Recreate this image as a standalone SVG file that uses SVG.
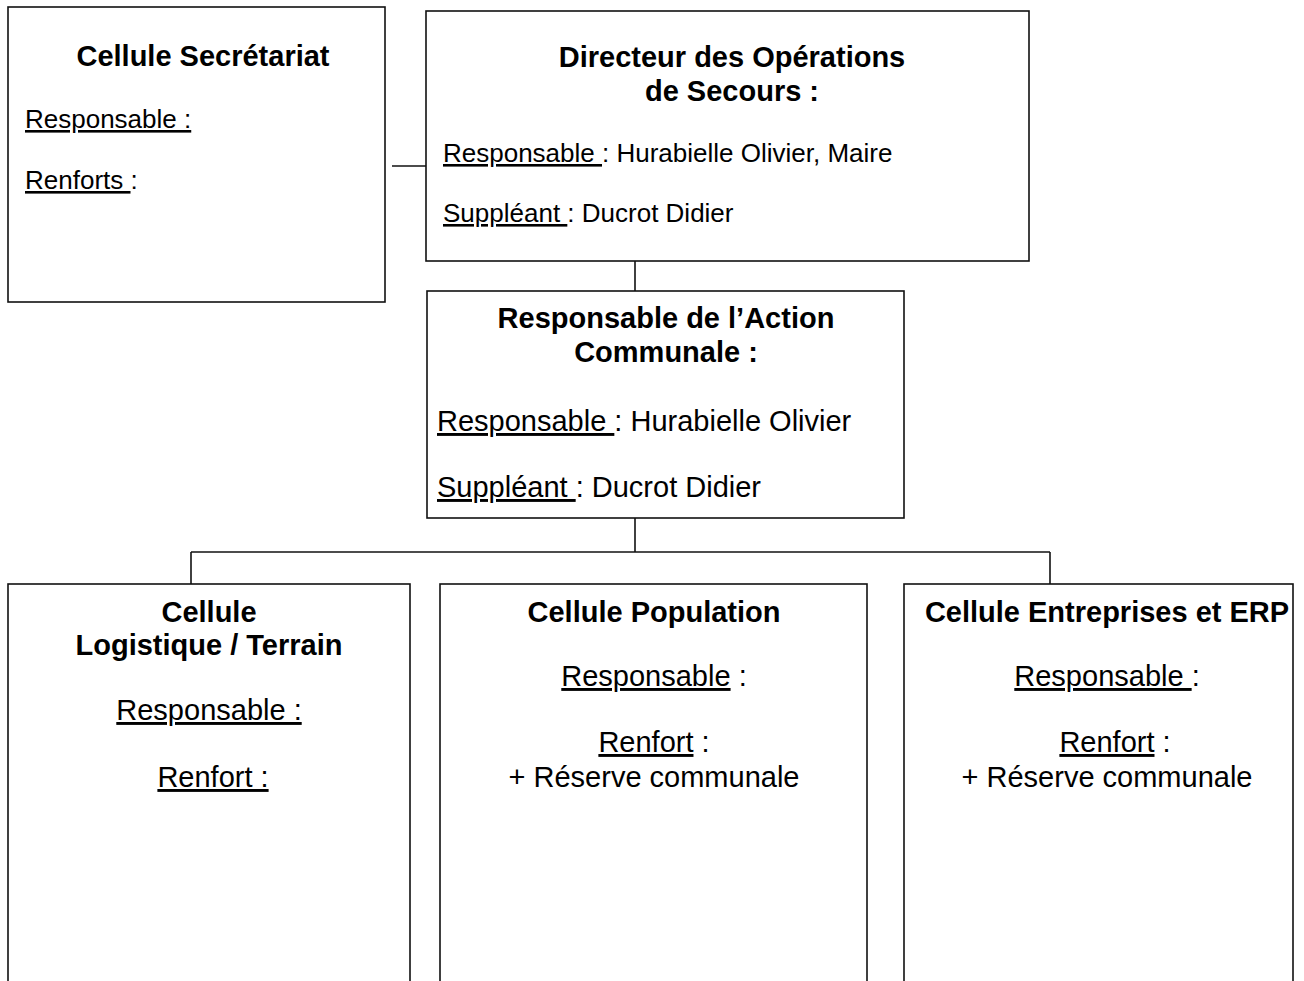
<svg xmlns="http://www.w3.org/2000/svg" width="1304" height="981" viewBox="0 0 1304 981">
<style>
.box{fill:#fff;stroke:#111;stroke-width:1.6}
.con{stroke:#111;stroke-width:1.6;fill:none}
text{font-family:"Liberation Sans",Arial,sans-serif;fill:#000}
.ti{font-size:29px;font-weight:bold}
.s26{font-size:26px}
.s29{font-size:29px}
.u{text-decoration:underline;text-decoration-thickness:2px;text-underline-offset:3px}
</style>
<rect width="1304" height="981" fill="#fff"/>
<g id="connectors">
<line class="con" x1="392" y1="166" x2="426" y2="166"/>
<line class="con" x1="635" y1="261" x2="635" y2="291"/>
<line class="con" x1="635" y1="518" x2="635" y2="552"/>
<line class="con" x1="191" y1="552" x2="1050" y2="552"/>
<line class="con" x1="191" y1="552" x2="191" y2="584"/>
<line class="con" x1="1050" y1="552" x2="1050" y2="584"/>
</g>
<g id="secretariat">
<rect class="box" x="8" y="7" width="377" height="295"/>
<text class="ti" x="203" y="66" text-anchor="middle">Cellule Secrétariat</text>
<text class="s26" x="25" y="128"><tspan class="u">Responsable :</tspan></text>
<text class="s26" x="25" y="189"><tspan class="u">Renforts </tspan>:</text>
</g>
<g id="dos">
<rect class="box" x="426" y="11" width="603" height="250"/>
<text class="ti" x="732" y="67" text-anchor="middle">Directeur des Opérations</text>
<text class="ti" x="732" y="101" text-anchor="middle">de Secours :</text>
<text class="s26" x="443" y="162"><tspan class="u">Responsable </tspan>: Hurabielle Olivier, Maire</text>
<text class="s26" x="443" y="222"><tspan class="u">Suppléant </tspan>: Ducrot Didier</text>
</g>
<g id="rac">
<rect class="box" x="427" y="291" width="477" height="227"/>
<text class="ti" x="666" y="328" text-anchor="middle">Responsable de l’Action</text>
<text class="ti" x="666" y="362" text-anchor="middle">Communale :</text>
<text class="s29" x="437" y="431"><tspan class="u">Responsable </tspan>: Hurabielle Olivier</text>
<text class="s29" x="437" y="497"><tspan class="u">Suppléant </tspan>: Ducrot Didier</text>
</g>
<g id="logistique">
<rect class="box" x="8" y="584" width="402" height="420"/>
<text class="ti" x="209" y="622" text-anchor="middle">Cellule</text>
<text class="ti" x="209" y="655" text-anchor="middle">Logistique / Terrain</text>
<text class="s29" x="209" y="720" text-anchor="middle"><tspan class="u">Responsable :</tspan></text>
<text class="s29" x="213" y="787" text-anchor="middle"><tspan class="u">Renfort :</tspan></text>
</g>
<g id="population">
<rect class="box" x="440" y="584" width="427" height="420"/>
<text class="ti" x="654" y="622" text-anchor="middle">Cellule Population</text>
<text class="s29" x="654" y="686" text-anchor="middle"><tspan class="u">Responsable</tspan> :</text>
<text class="s29" x="654" y="752" text-anchor="middle"><tspan class="u">Renfort</tspan> :</text>
<text class="s29" x="654" y="787" text-anchor="middle">+ Réserve communale</text>
</g>
<g id="entreprises">
<rect class="box" x="904" y="584" width="389" height="420"/>
<text class="ti" x="1107" y="622" text-anchor="middle">Cellule Entreprises et ERP</text>
<text class="s29" x="1107" y="686" text-anchor="middle"><tspan class="u">Responsable </tspan>:</text>
<text class="s29" x="1115" y="752" text-anchor="middle"><tspan class="u">Renfort</tspan> :</text>
<text class="s29" x="1107" y="787" text-anchor="middle">+ Réserve communale</text>
</g>
</svg>
